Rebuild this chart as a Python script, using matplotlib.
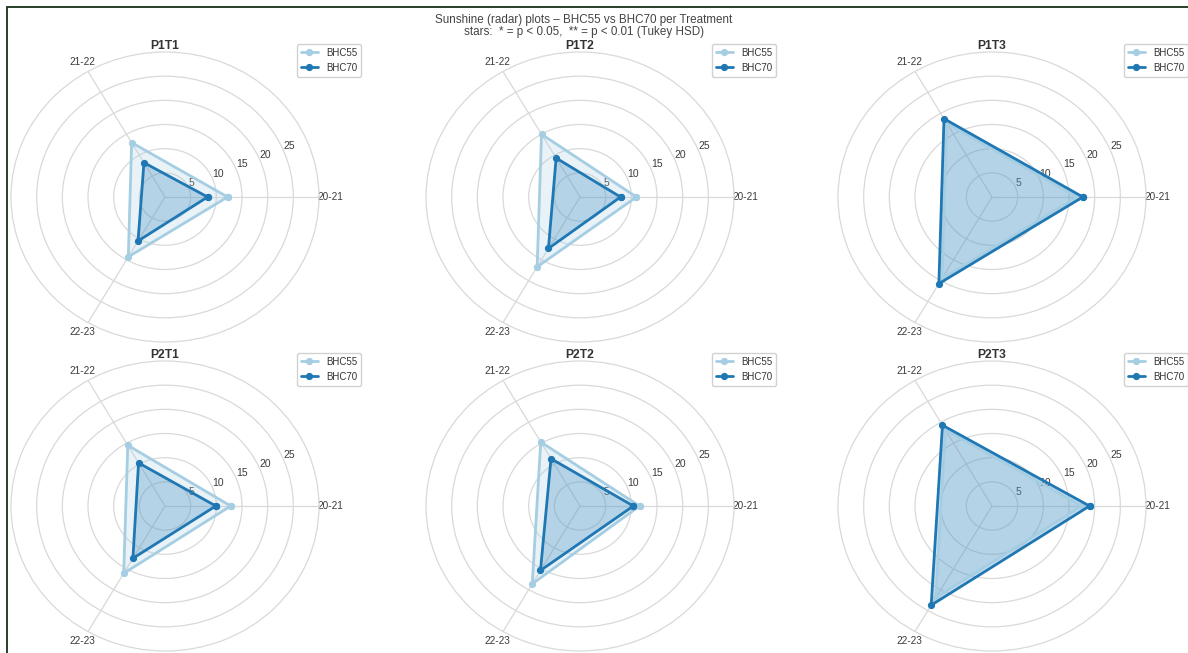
import numpy as np
import matplotlib
matplotlib.use("Agg")
import matplotlib.pyplot as plt
from matplotlib.lines import Line2D

# seasons on the spokes, one radar per treatment
seasons = ["20-21", "21-22", "22-23"]
treatments = ["P1T1", "P1T2", "P1T3", "P2T1", "P2T2", "P2T3"]

bhc55 = [
    [12.2, 13.0, 14.3],
    [11.0, 15.0, 16.7],
    [16.6, 17.6, 19.5],
    [12.8, 14.5, 16.1],
    [11.6, 15.3, 18.6],
    [17.5, 18.2, 21.9],
]
bhc70 = [
    [8.3, 8.2, 10.5],
    [7.9, 9.3, 12.3],
    [17.7, 18.7, 20.7],
    [9.9, 10.3, 12.5],
    [10.4, 11.3, 15.4],
    [19.0, 19.3, 23.7],
]

r_ticks = [5, 10, 15, 20, 25]

plt.style.use("seaborn-v0_8-whitegrid")
plt.rcParams["font.family"] = ["Liberation Sans", "DejaVu Sans"]
plt.rcParams["text.color"] = "#333333"

c55 = "#a6cee3"
c70 = "#1f78b4"
grid_col = "#d9d9d9"

fig = plt.figure(figsize=(11.88, 6.53), dpi=100)

angles = np.linspace(0, 2 * np.pi, len(seasons), endpoint=False)
closed = np.append(angles, angles[0])

# panel boxes (figure fraction)
W, H = 308 / 1188, 290 / 653
lefts = [11 / 1188, 426 / 1188, 838 / 1188]
bottoms = [311 / 653, 2 / 653]

for i, name in enumerate(treatments):
    row, col = divmod(i, 3)
    ax = fig.add_axes([lefts[col], bottoms[row], W, H], projection="polar")
    ax.set_aspect("auto")

    v55 = np.append(bhc55[i], bhc55[i][0])
    v70 = np.append(bhc70[i], bhc70[i][0])

    ax.plot(closed, v55, "o-", color=c55, lw=2, ms=4.2, label="BHC55")
    ax.fill(closed, v55, color=c55, alpha=0.25)
    ax.plot(closed, v70, "o-", color=c70, lw=2, ms=4.2, label="BHC70")
    ax.fill(closed, v70, color=c70, alpha=0.25)

    ax.set_xticks(angles)
    ax.set_xticklabels(seasons, fontsize=7.2, color="#3a3a3a")
    ax.set_ylim(0, 30)
    ax.set_yticks(r_ticks)
    ax.set_yticklabels([str(t) for t in r_ticks], fontsize=7.5, color="#3a3a3a")
    ax.grid(color=grid_col, lw=0.9)
    ax.spines["polar"].set_color(grid_col)
    ax.spines["polar"].set_linewidth(0.9)
    ax.tick_params(axis="x", pad=1)

    ax.set_title(name, fontsize=8.7, fontweight="bold", pad=2, color="#333333")
    ax.legend(loc="upper right", bbox_to_anchor=(1.136, 1.028), borderaxespad=0,
              fontsize=7, frameon=True, edgecolor="#cccccc", fancybox=True,
              framealpha=0.9, handlelength=1.8)

fig.text(0.4916, 1 - 13.5 / 653,
         "Sunshine (radar) plots \u2013 BHC55 vs BHC70 per Treatment\n"
         "stars:  * = p < 0.05,  ** = p < 0.01 (Tukey HSD)",
         ha="center", va="top", fontsize=8.4, linespacing=1.0, color="#444444")

# frame edges along the top and left
fig.add_artist(Line2D([6.5 / 1188, 1], [1 - 6.5 / 653, 1 - 6.5 / 653],
                      transform=fig.transFigure, color="#2a3f2a", lw=1.4))
fig.add_artist(Line2D([6.5 / 1188, 6.5 / 1188], [0, 1 - 6.5 / 653],
                      transform=fig.transFigure, color="#2a3f2a", lw=1.4))

fig.savefig("out.png", dpi=100)
